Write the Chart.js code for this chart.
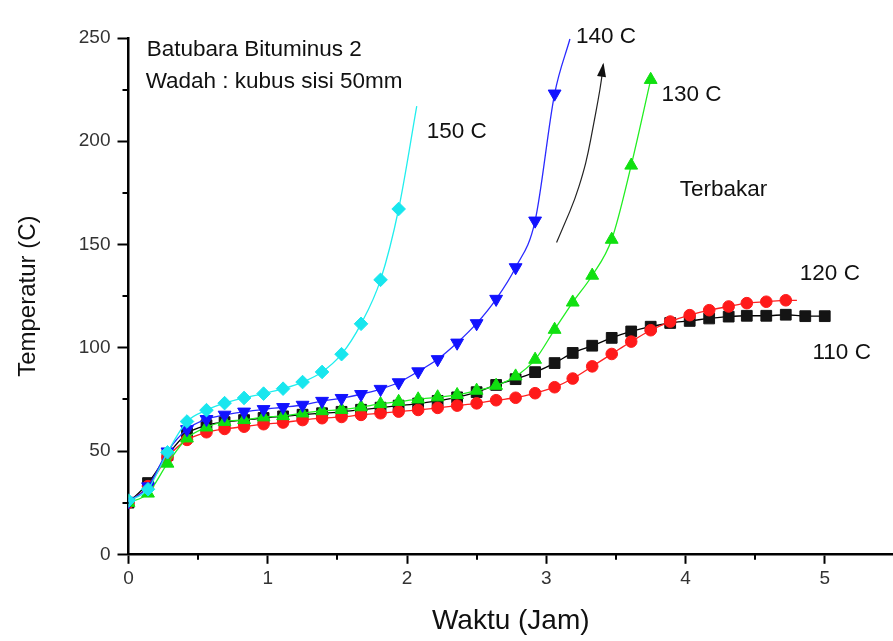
<!DOCTYPE html>
<html>
<head>
<meta charset="utf-8">
<title>Batubara Bituminus 2</title>
<script src="https://cdn.jsdelivr.net/npm/chart.js@4.4.1/dist/chart.umd.min.js"></script>
<style>
  html, body { margin: 0; padding: 0; background: #ffffff; }
  #wrap { width: 893px; height: 641px; position: relative; overflow: hidden; }
  canvas { display: block; }
</style>
</head>
<body>
<div id="wrap"><canvas id="chart" width="893" height="641"></canvas></div>
<script>
// Waktu pengukuran (jam), satu titik tiap ~500 detik
const waktu = [0, 0.14, 0.28, 0.42, 0.56, 0.69, 0.83, 0.97, 1.11, 1.25, 1.39, 1.53,
  1.67, 1.81, 1.94, 2.08, 2.22, 2.36, 2.50, 2.64, 2.78, 2.92, 3.06, 3.19, 3.33,
  3.47, 3.61, 3.75, 3.89, 4.03, 4.17, 4.31, 4.44, 4.58, 4.72, 4.86, 5.00];

// Temperatur batubara (C) untuk tiap suhu oven
const suhu110 = [25, 34.5, 48, 58.5, 62.5, 64, 65, 66, 66.8, 67.6, 68.3, 69, 70, 71,
  72, 73, 74.3, 76, 78.5, 82, 84.8, 88.2, 92.6, 97.5, 101, 104.8, 107.9, 110.2,
  112, 113, 114.2, 115.1, 115.5, 115.5, 116, 115.3, 115.3];
const suhu120 = [25, 33, 47, 55.4, 59.1, 60.7, 61.8, 63, 63.8, 65, 65.9, 66.5, 67.5,
  68.3, 69.1, 69.9, 70.9, 72, 73.1, 74.6, 75.8, 78, 80.9, 85.1, 91, 97, 103, 108.5,
  112.7, 115.8, 118.2, 120, 121.6, 122.3, 123];
const suhu130 = [25, 29.5, 44, 56.2, 61.5, 64.2, 65.1, 66.4, 67, 68.3, 69.4, 70, 71.3,
  72.8, 73.9, 75.1, 76.1, 77.2, 79.3, 81.7, 86.2, 94.3, 108.8, 122, 135, 152.4,
  188.3, 229.8];
const suhu140 = [25.5, 32.8, 49.7, 60.5, 65.4, 67.5, 69, 70.2, 71.2, 72.3, 74.2, 75.6,
  77.5, 80, 83.2, 88.5, 94.4, 102.4, 111.8, 123.6, 138.9, 161.5, 223];
const suhu150 = [26, 31.5, 49.4, 64.3, 69.8, 73.2, 75.7, 77.8, 80.2, 83.4, 88.3, 96.9,
  111.6, 132.9, 167.2];

// Titik akhir kurva (tanpa simbol)
const akhir120 = { x: 4.80, y: 123 };
const akhir140 = { x: 3.17, y: 249.5 };
const akhir150 = { x: 2.07, y: 217 };

// Tick sumbu
const tickX = [0, 1, 2, 3, 4, 5];
const tickY = [0, 50, 100, 150, 200, 250];
const minorX = [0.5, 1.5, 2.5, 3.5, 4.5];
const minorY = [25, 75, 125, 175, 225];

// Keterangan di dalam grafik (posisi dalam satuan data: kiri, garis dasar)
const keterangan = [
  { text: 'Batubara Bituminus 2', x: 0.131, y: 241.4 },
  { text: 'Wadah : kubus sisi 50mm', x: 0.123, y: 225.8 },
  { text: '150 C', x: 2.141, y: 201.6 },
  { text: '140 C', x: 3.213, y: 247.6 },
  { text: '130 C', x: 3.828, y: 219.3 },
  { text: 'Terbakar', x: 3.959, y: 173.3 },
  { text: '120 C', x: 4.821, y: 132.9 },
  { text: '110 C', x: 4.912, y: 94.5 }
];

// Panah "terbakar"
const panah = [
  [3.074, 151.0], [3.134, 160.4], [3.205, 171.7], [3.265, 184.6], [3.301, 194.3],
  [3.337, 207.2], [3.373, 220.1], [3.397, 229.8], [3.409, 237.1]
];

const FONT = "'Liberation Sans', Arial, Helvetica, sans-serif";

function titik(values, akhir) {
  const pts = values.map((v, i) => ({ x: waktu[i], y: v }));
  if (akhir) pts.push(akhir);
  return pts;
}
function radius(values, r, akhir) {
  const arr = values.map(() => r);
  if (akhir) arr.push(0);
  return arr;
}

function seri(label, values, akhir, lineColor, markColor, style, r, order, rot) {
  return {
    label,
    data: titik(values, akhir),
    borderColor: lineColor,
    backgroundColor: markColor,
    pointBackgroundColor: markColor,
    pointBorderColor: markColor,
    pointBorderWidth: 1,
    pointStyle: style,
    pointRotation: rot || 0,
    pointRadius: radius(values, r, akhir),
    pointHoverRadius: radius(values, r, akhir),
    borderWidth: 1.3,
    cubicInterpolationMode: 'monotone',
    fill: false,
    order
  };
}

const datasets = [
  seri('110 C', suhu110, null, '#000000', '#141414', 'rect', 7.6, 5),
  seri('120 C', suhu120, akhir120, '#ff2020', '#ff1a1a', 'circle', 5.8, 4),
  seri('130 C', suhu130, null, '#22ee22', '#10e010', 'triangle', 7.4, 3),
  seri('140 C', suhu140, akhir140, '#2a2aff', '#1212ff', 'triangle', 7.4, 2, 180),
  seri('150 C', suhu150, akhir150, '#22eeee', '#18e6ee', 'rectRot', 6.8, 1)
];

const tambahan = {
  id: 'tambahan',
  afterDraw(chart) {
    const { ctx, chartArea, scales } = chart;
    const sx = scales.x, sy = scales.y;
    ctx.save();
    // tick minor
    ctx.strokeStyle = '#000';
    ctx.lineWidth = 2;
    ctx.beginPath();
    minorY.forEach(v => {
      const py = Math.round(sy.getPixelForValue(v));
      ctx.moveTo(chartArea.left - 6, py);
      ctx.lineTo(chartArea.left, py);
    });
    minorX.forEach(v => {
      const px = Math.round(sx.getPixelForValue(v));
      ctx.moveTo(px, chartArea.bottom);
      ctx.lineTo(px, chartArea.bottom + 5.5);
    });
    ctx.stroke();

    // keterangan teks
    ctx.fillStyle = '#111';
    ctx.font = '22.5px ' + FONT;
    ctx.textAlign = 'left';
    ctx.textBaseline = 'alphabetic';
    keterangan.forEach(k => {
      ctx.fillText(k.text, sx.getPixelForValue(k.x), sy.getPixelForValue(k.y));
    });

    // panah
    const p = panah.map(([x, y]) => [sx.getPixelForValue(x), sy.getPixelForValue(y)]);
    ctx.strokeStyle = '#222';
    ctx.lineWidth = 1.2;
    ctx.beginPath();
    ctx.moveTo(p[0][0], p[0][1]);
    for (let i = 1; i < p.length - 1; i++) {
      const mx = (p[i][0] + p[i + 1][0]) / 2, my = (p[i][1] + p[i + 1][1]) / 2;
      ctx.quadraticCurveTo(p[i][0], p[i][1], mx, my);
    }
    const tip = p[p.length - 1];
    ctx.lineTo(tip[0], tip[1]);
    ctx.stroke();
    const prev = p[p.length - 3];
    const ang = Math.atan2(tip[1] - prev[1], tip[0] - prev[0]);
    ctx.fillStyle = '#111';
    ctx.beginPath();
    ctx.moveTo(tip[0] + Math.cos(ang) * 2, tip[1] + Math.sin(ang) * 2);
    const L = 14, W = 4.5;
    const bx = tip[0] - Math.cos(ang) * (L - 2), by = tip[1] - Math.sin(ang) * (L - 2);
    ctx.lineTo(bx + Math.cos(ang + Math.PI / 2) * W, by + Math.sin(ang + Math.PI / 2) * W);
    ctx.lineTo(bx - Math.cos(ang + Math.PI / 2) * W, by - Math.sin(ang + Math.PI / 2) * W);
    ctx.closePath();
    ctx.fill();
    ctx.restore();
  }
};

new Chart(document.getElementById('chart'), {
  type: 'line',
  data: { datasets },
  plugins: [tambahan],
  options: {
    responsive: false,
    animation: false,
    devicePixelRatio: 1,
    layout: { autoPadding: false, padding: { top: 38, right: 0, left: 0, bottom: 0 } },
    plugins: { legend: { display: false }, tooltip: { enabled: false }, title: { display: false } },
    elements: { line: { tension: 0.4 } },
    scales: {
      x: {
        type: 'linear',
        min: 0,
        max: 5.49,
        afterBuildTicks: s => { s.ticks = tickX.map(v => ({ value: v })); },
        afterFit: s => { s.height = 86.7; s.paddingLeft = 0; s.paddingRight = 0; },
        grid: { display: true, drawOnChartArea: false, drawTicks: true, tickLength: 9.5, tickWidth: 2, tickColor: '#000' },
        border: { display: true, color: '#000', width: 2.5 },
        ticks: { color: '#333', font: { family: FONT, size: 19 }, padding: 4, maxRotation: 0, autoSkip: false },
        title: { display: true, text: 'Waktu (Jam)', color: '#111', font: { family: FONT, size: 28 }, padding: { top: 0, bottom: 3 } }
      },
      y: {
        type: 'linear',
        min: 0,
        max: 250,
        afterBuildTicks: s => { s.ticks = tickY.map(v => ({ value: v })); },
        afterFit: s => { s.width = 128.5; },
        grid: { display: true, drawOnChartArea: false, drawTicks: true, tickLength: 11, tickWidth: 2, tickColor: '#000' },
        border: { display: true, color: '#000', width: 2.5 },
        ticks: { color: '#333', font: { family: FONT, size: 19 }, padding: 7, autoSkip: false },
        title: { display: true, text: 'Temperatur (C)', color: '#111', font: { family: FONT, size: 24 }, padding: { top: 14, bottom: 0 } }
      }
    }
  }
});
</script>
</body>
</html>
